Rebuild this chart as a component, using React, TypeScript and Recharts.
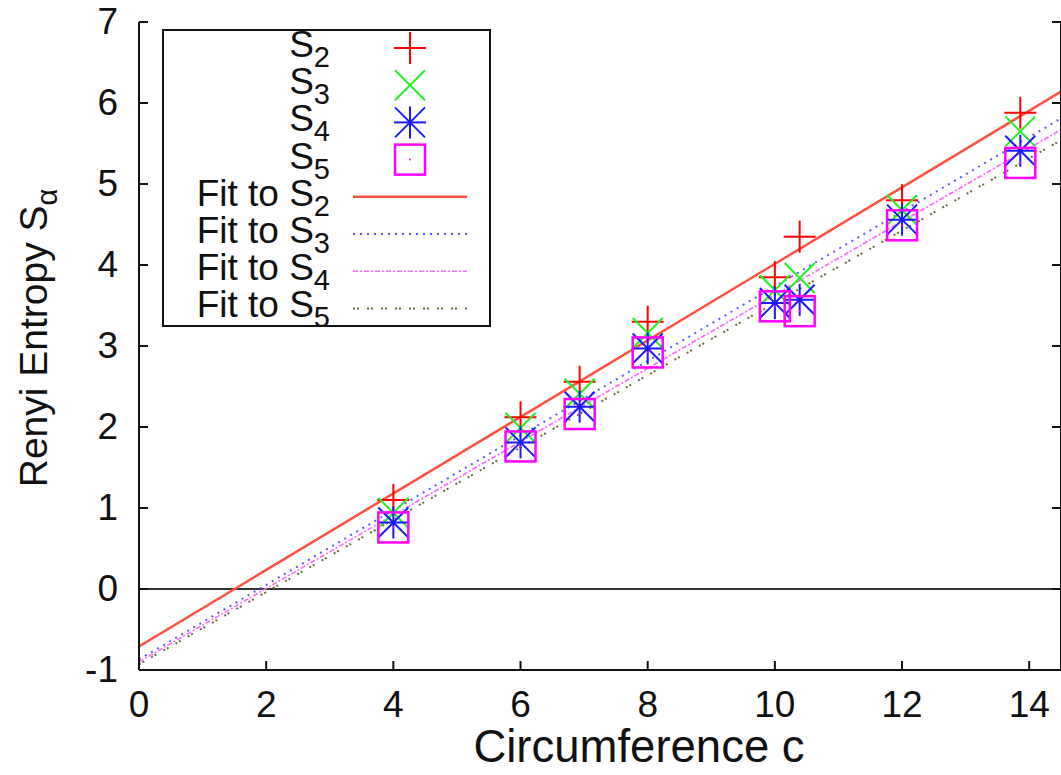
import { ComposedChart, Line, Scatter, XAxis, YAxis, ReferenceLine, Legend } from 'recharts';

const circumference = [4, 6, 6.93, 8, 10, 10.39, 12, 13.86];
const s2 = [1.1, 2.12, 2.56, 3.3, 3.85, 4.35, 4.8, 5.88];
const s3 = [0.94, 1.99, 2.41, 3.16, 3.69, 3.84, 4.68, 5.65];
const s4 = [0.82, 1.81, 2.25, 2.97, 3.53, 3.57, 4.56, 5.41];
const s5 = [0.76, 1.76, 2.16, 2.92, 3.49, 3.43, 4.49, 5.26];

// fitted lines, read at both ends of the visible x range
const fitX = [0, 14.5];
const fit2 = [-0.71, 6.14];
const fit3 = [-0.87, 5.81];
const fit4 = [-0.9, 5.67];
const fit5 = [-0.93, 5.54];

const xTicks = [0, 2, 4, 6, 8, 10, 12, 14];
const yTicks = [-1, 0, 1, 2, 3, 4, 5, 6, 7];

const FONT = '"Liberation Sans", Arial, Helvetica, sans-serif';
const INK = '#111';

const toPoints = (ys: number[]) => circumference.map((x, i) => ({ x, y: ys[i] }));
const toFit = (ys: number[]) => fitX.map((x, i) => ({ x, y: ys[i] }));

type Kind = 'plus' | 'cross' | 'star' | 'box';

const pointSeries: { sub: string; values: number[]; color: string; kind: Kind }[] = [
  { sub: '2', values: s2, color: '#ff0000', kind: 'plus' },
  { sub: '3', values: s3, color: '#22ee22', kind: 'cross' },
  { sub: '4', values: s4, color: '#1a1aff', kind: 'star' },
  { sub: '5', values: s5, color: '#ff00ff', kind: 'box' },
];

const fitSeries = [
  { sub: '2', values: fit2, color: '#ff5040', dash: undefined, width: 2.5 },
  { sub: '3', values: fit3, color: '#5a5aff', dash: '2 5', width: 2 },
  { sub: '4', values: fit4, color: '#ff66ff', dash: '5 2 2 2', width: 1.6 },
  { sub: '5', values: fit5, color: '#6f6a3c', dash: '2 2 2 8', width: 2 },
];

function Marker({ cx, cy, kind, color }: { cx: number; cy: number; kind: Kind; color: string }) {
  const r = 16;
  const d = 15;
  if (kind === 'plus') {
    return (
      <g stroke={color} strokeWidth={2}>
        <line x1={cx - r} y1={cy} x2={cx + r} y2={cy} />
        <line x1={cx} y1={cy - r} x2={cx} y2={cy + r} />
      </g>
    );
  }
  if (kind === 'cross') {
    return (
      <g stroke={color} strokeWidth={2}>
        <line x1={cx - d} y1={cy - d} x2={cx + d} y2={cy + d} />
        <line x1={cx - d} y1={cy + d} x2={cx + d} y2={cy - d} />
      </g>
    );
  }
  if (kind === 'star') {
    return (
      <g stroke={color} strokeWidth={2}>
        <line x1={cx - r} y1={cy} x2={cx + r} y2={cy} />
        <line x1={cx} y1={cy - r} x2={cx} y2={cy + r} />
        <line x1={cx - d} y1={cy - d} x2={cx + d} y2={cy + d} />
        <line x1={cx - d} y1={cy + d} x2={cx + d} y2={cy - d} />
      </g>
    );
  }
  return (
    <g>
      <rect x={cx - 15} y={cy - 15} width={30} height={30} fill="none" stroke={color} strokeWidth={2.5} />
      <circle cx={cx} cy={cy} r={1} fill={color} />
    </g>
  );
}

const BottomTick = ({ x, y, payload }: any) => (
  <g>
    <line x1={x} y1={y} x2={x} y2={y - 9} stroke={INK} strokeWidth={2} />
    <text x={x} y={y + 47} textAnchor="middle" fontSize={37} fontFamily={FONT} fill={INK}>
      {payload.value}
    </text>
  </g>
);

const TopTick = ({ x, y }: any) => <line x1={x} y1={y} x2={x} y2={y + 9} stroke={INK} strokeWidth={2} />;

const LeftTick = ({ x, y, payload }: any) => (
  <g>
    <line x1={x} y1={y} x2={x + 9} y2={y} stroke={INK} strokeWidth={2} />
    <text x={x - 21} y={y + 12} textAnchor="end" fontSize={37} fontFamily={FONT} fill={INK}>
      {payload.value}
    </text>
  </g>
);

const RightTick = ({ x, y }: any) => <line x1={x} y1={y} x2={x - 9} y2={y} stroke={INK} strokeWidth={2} />;

function KeyBox() {
  const rowY = (i: number) => 19 + i * 37.2;
  return (
    <svg width={330} height={299} style={{ display: 'block', overflow: 'visible' }}>
      <rect x={1} y={1} width={327} height={296} fill="#fff" stroke={INK} strokeWidth={2} />
      {pointSeries.map((s, i) => (
        <g key={'p' + i}>
          <text x={168} y={rowY(i) + 9} textAnchor="end" fontSize={37} fontFamily={FONT} fill={INK}>
            S<tspan fontSize={29} dy={10}>{s.sub}</tspan>
          </text>
          <Marker cx={248} cy={rowY(i)} kind={s.kind} color={s.color} />
        </g>
      ))}
      {fitSeries.map((s, i) => (
        <g key={'f' + i}>
          <text x={168} y={rowY(i + 4) + 9} textAnchor="end" fontSize={37} fontFamily={FONT} fill={INK}>
            Fit to S<tspan fontSize={29} dy={10}>{s.sub}</tspan>
          </text>
          <line x1={191} y1={rowY(i + 4)} x2={305} y2={rowY(i + 4)} stroke={s.color} strokeWidth={s.width} strokeDasharray={s.dash} />
        </g>
      ))}
    </svg>
  );
}

export default function App() {
  return (
    <div style={{ position: 'absolute', left: 0, top: 0, width: 1061, height: 775, background: '#fff', overflow: 'hidden' }}>
      <ComposedChart width={1069} height={775} margin={{ top: 22, right: 0, bottom: 0, left: 0 }}>
        <XAxis
          dataKey="x"
          type="number"
          domain={[0, 14.5]}
          ticks={xTicks}
          allowDataOverflow
          height={105}
          tickSize={0}
          tickMargin={0}
          tick={<BottomTick />}
          axisLine={{ stroke: INK, strokeWidth: 2 }}
          label={{
            content: ({ viewBox }: any) => (
              <text x={viewBox.x + viewBox.width / 2 + 39} y={viewBox.y + 92} textAnchor="middle" fontSize={45.5} fontFamily={FONT} fill={INK}>
                Circumference c
              </text>
            ),
          }}
        />
        <XAxis
          xAxisId="top"
          orientation="top"
          dataKey="x"
          type="number"
          domain={[0, 14.5]}
          ticks={xTicks}
          allowDataOverflow
          height={0}
          tickSize={0}
          tickMargin={0}
          tick={<TopTick />}
          axisLine={{ stroke: INK, strokeWidth: 2 }}
        />
        <YAxis
          dataKey="y"
          type="number"
          domain={[-1, 7]}
          ticks={yTicks}
          allowDataOverflow
          width={139}
          tickSize={0}
          tickMargin={0}
          tick={<LeftTick />}
          axisLine={{ stroke: INK, strokeWidth: 2 }}
          label={{
            content: ({ viewBox }: any) => {
              const cx = 47;
              const cy = viewBox.y + viewBox.height / 2 - 8;
              return (
                <text x={cx} y={cy} transform={`rotate(-90 ${cx} ${cy})`} textAnchor="middle" fontSize={39} fontFamily={FONT} fill={INK}>
                  Renyi Entropy S<tspan fontSize={29} dy={10}>α</tspan>
                </text>
              );
            },
          }}
        />
        <YAxis
          yAxisId="r"
          orientation="right"
          dataKey="y"
          type="number"
          domain={[-1, 7]}
          ticks={yTicks}
          allowDataOverflow
          width={8}
          tickSize={0}
          tickMargin={0}
          tick={<RightTick />}
          axisLine={{ stroke: INK, strokeWidth: 2 }}
        />
        <ReferenceLine y={0} stroke="#333" strokeWidth={2} />
        {pointSeries.map((s, i) => (
          <Scatter
            key={'s' + i}
            data={toPoints(s.values)}
            isAnimationActive={false}
            shape={(p: any) => <Marker cx={p.cx} cy={p.cy} kind={s.kind} color={s.color} />}
          />
        ))}
        {fitSeries.map((s, i) => (
          <Line
            key={'l' + i}
            data={toFit(s.values)}
            dataKey="y"
            type="linear"
            stroke={s.color}
            strokeWidth={s.width}
            strokeDasharray={s.dash}
            dot={false}
            activeDot={false}
            isAnimationActive={false}
          />
        ))}
        <Legend
          layout="horizontal"
          verticalAlign="middle"
          align="center"
          wrapperStyle={{ left: 162, top: 29, width: 330, height: 299 }}
          content={() => <KeyBox />}
        />
      </ComposedChart>
    </div>
  );
}
